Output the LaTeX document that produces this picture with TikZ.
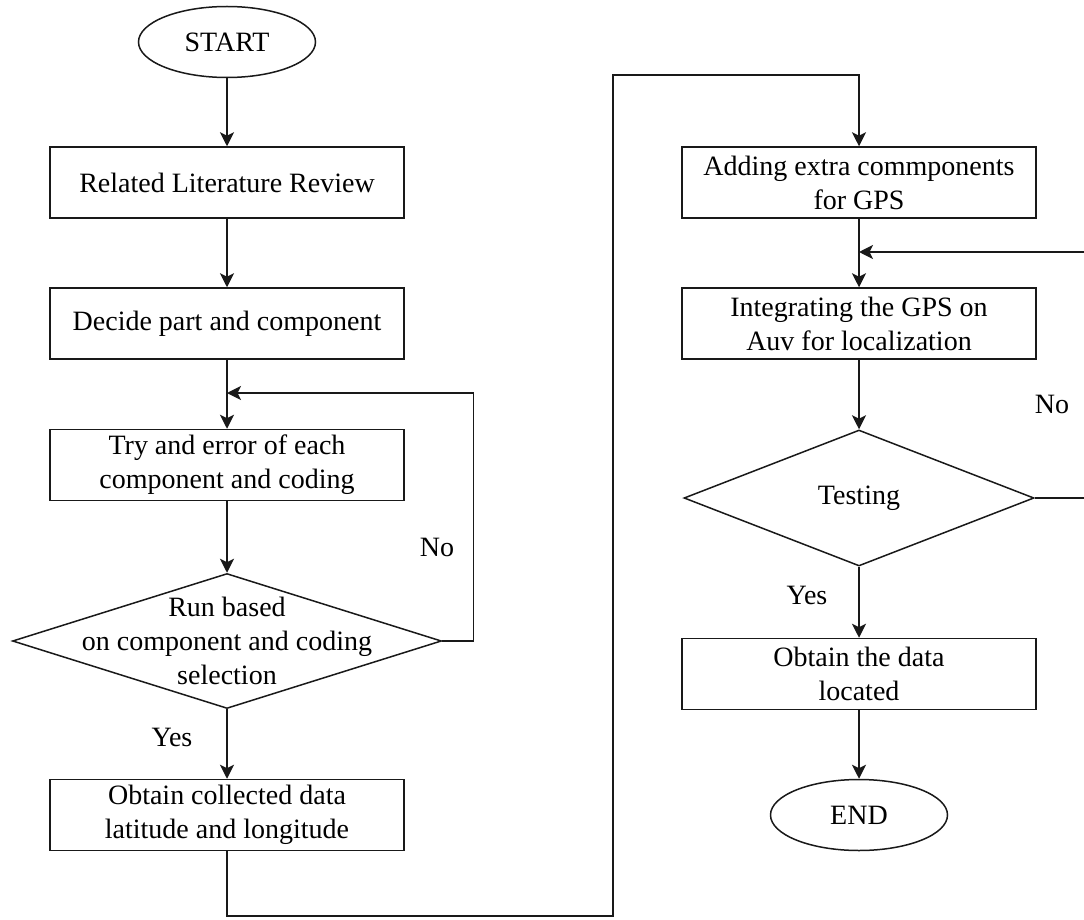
\documentclass[tikz,border=0pt]{standalone}
\usepackage{fontspec}
\setmainfont{Liberation Serif}
\newfontfamily\tnr{Liberation Serif}
\usetikzlibrary{shapes.geometric,arrows.meta,calc}
\begin{document}
\begin{tikzpicture}[x=1pt,y=-1pt,
  font=\tnr\fontsize{28}{34}\selectfont,
  every node/.style={text=black},
  procbox/.style={draw=black!90,line width=1.5pt,rectangle,minimum width=354pt,minimum height=71pt,inner sep=0pt,align=center},
  termbox/.style={draw=black!90,line width=1.5pt,ellipse,minimum width=177pt,minimum height=71pt,inner sep=0pt},
  decbox/.style={draw=black!90,line width=1.5pt,diamond,inner sep=0pt},
  arr/.style={draw=black!90,line width=1.5pt,-{Stealth[length=14pt,width=14pt,inset=3.5pt]}},
  lbl/.style={inner sep=0pt}]
\useasboundingbox (0,0) rectangle (1084,920);
\fill[white] (0,0) rectangle (1084,920);
% left column
\node[termbox] (start) at (227,42) {START};
\node[procbox] (r1) at (227,182.5) {Related Literature Review};
\node[procbox] (r2) at (227,323.5) {Decide part and component};
\node[procbox] (r3) at (227,465) {Try and error of each\\component and coding};
\node[decbox,minimum width=429pt,minimum height=135pt,
  label={[align=center,inner sep=0pt]center:Run based\\on component and coding\\selection}] (d1) at (227,641) {};
\node[procbox] (r4) at (227,815) {Obtain collected data\\latitude and longitude};
% right column
\node[procbox] (r5) at (859,182.5) {Adding extra commponents\\for GPS};
\node[procbox] (r6) at (859,323.5) {Integrating the GPS on\\Auv for localization};
\node[decbox,minimum width=350pt,minimum height=136pt,
  label={[inner sep=0pt]center:Testing}] (d2) at (859,498) {};
\node[procbox] (r7) at (859,674) {Obtain the data\\located};
\node[termbox] (end) at (859,815) {END};
% labels
\node[lbl] (no1) at (437,547) {No};
\node[lbl] (yes1) at (172,737) {Yes};
\node[lbl] (no2) at (1052,404) {No};
\node[lbl] (yes2) at (807,595) {Yes};
% helper coordinates
\coordinate (m1) at (227,393);
\coordinate (m2) at (859,252);
\coordinate (c1) at (613,916);
\coordinate (c2) at (859,75);
% connectors
\draw[arr] (start) -- (r1);
\draw[arr] (r1) -- (r2);
\draw[arr] (r2) -- (r3);
\draw[arr] (r3) -- (d1);
\draw[arr] (d1) -- (r4);
\draw[arr] (d1.east) -- ++(31,0) |- (m1);
\draw[arr] (r4.south) |- (c1) |- (c2) -- (r5.north);
\draw[arr] (r5) -- (r6);
\draw[arr] (r6) -- (d2);
\draw[arr] (d2) -- (r7);
\draw[arr] (r7) -- (end);
\draw[arr] (d2.east) -- ++(70,0) |- (m2);
\end{tikzpicture}
\end{document}
